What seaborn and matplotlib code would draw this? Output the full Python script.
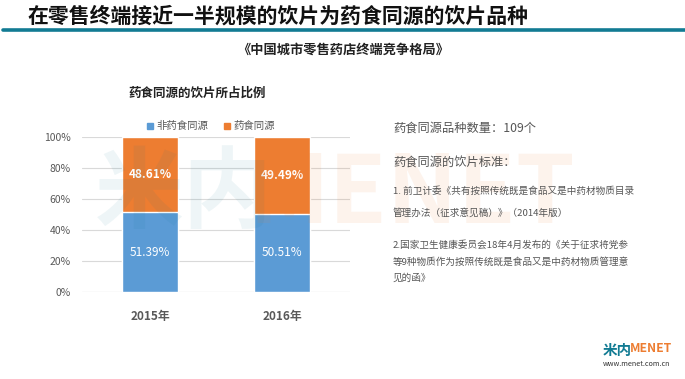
import pandas as pd
import matplotlib.pyplot as plt
import seaborn as sns
from matplotlib.lines import Line2D

years = ["2015年", "2016年"]
non_share = [51.39, 50.51]
share = [48.61, 49.49]
series_names = ["非药食同源", "药食同源"]
yticks = [0, 20, 40, 60, 80, 100]

df = pd.DataFrame({"year": years, "non": non_share, "yes": share})
df["total"] = df["non"] + df["yes"]

sns.set_theme(style="white")
plt.rcParams["font.family"] = ["Noto Sans CJK SC", "DejaVu Sans"]

W, H = 685, 379
fig = plt.figure(figsize=(W / 100, H / 100), dpi=100)
fig.patch.set_facecolor("white")


def px(x, y):
    return x / W, 1 - y / H


# header
fig.text(*px(28, 16), "在零售终端接近一半规模的饮片为药食同源的饮片品种",
         fontsize=15, fontweight="heavy", color="#111111", va="center", ha="left")
fig.add_artist(Line2D([3 / W, 1], [1 - 30 / H] * 2, color="#127b93", lw=2.6))
fig.text(*px(343, 50), "《中国城市零售药店终端竞争格局》", fontsize=9.5,
         fontweight="bold", color="#222222", va="center", ha="center")

# watermark (faint, behind everything)
fig.text(*px(95, 195), "米内", fontsize=64, fontweight="bold", color="#127b93",
         alpha=0.07, va="center", ha="left", zorder=0)
fig.text(*px(248, 195), "MENET", fontsize=68, fontweight="bold", color="#ed7d31",
         alpha=0.09, va="center", ha="left", zorder=0)

# chart
ax = fig.add_axes([82 / W, 1 - 292 / H, (350 - 82) / W, 155 / H])
ax.set_facecolor("none")
blue, orange = "#5b9bd5", "#ed7d31"
sns.barplot(data=df, x="year", y="total", color=orange, width=0.42,
            saturation=1, ax=ax, zorder=3)
sns.barplot(data=df, x="year", y="non", color=blue, width=0.42,
            saturation=1, ax=ax, zorder=3)
ax.set_xlim(-0.515, 1.515)
ax.set_ylim(0, 100)
ax.set_yticks(yticks)
ax.set_yticklabels([f"{t}%" for t in yticks], fontsize=7.5, color="#595959")
ax.yaxis.grid(True, color="#d9d9d9", lw=0.8, zorder=0)
ax.tick_params(axis="y", length=0, pad=8)
ax.tick_params(axis="x", length=0, pad=13)
ax.set_xticks(range(len(years)))
ax.set_xticklabels(years, fontsize=8.5, fontweight="bold", color="#595959")
ax.set_xlabel("")
ax.set_ylabel("")
for s in ax.spines.values():
    s.set_visible(False)
ax.axhline(0, color="#d9d9d9", lw=0.8, zorder=1)

for i in range(len(years)):
    ax.text(i, df["non"][i] / 2, f"{df['non'][i]:.2f}%", ha="center", va="center",
            color="white", fontsize=8.5, zorder=5)
    ax.text(i, df["non"][i] + df["yes"][i] / 2, f"{df['yes'][i]:.2f}%", ha="center",
            va="center", color="white", fontsize=8.5, fontweight="bold", zorder=5)

fig.text(*px(128, 93), "药食同源的饮片所占比例", fontsize=9, fontweight="bold",
         color="#222222", va="center", ha="left")
# legend
for (lx, name, c) in [(147, series_names[0], blue), (224, series_names[1], orange)]:
    fig.patches.append(plt.Rectangle(px(lx, 129), 6 / W, 6 / H, color=c,
                                     transform=fig.transFigure, figure=fig))
    fig.text(*px(lx + 9, 126), name, fontsize=7.5, color="#595959",
             va="center", ha="left")

# right-side notes
gray = "#555555"
fig.text(*px(393, 128), "药食同源品种数量：109个", fontsize=8.8, color=gray,
         va="center", ha="left")
fig.text(*px(393, 163), "药食同源的饮片标准：", fontsize=8.8, color=gray,
         va="center", ha="left")
notes = [
    (191, "1. 前卫计委《共有按照传统既是食品又是中药材物质目录"),
    (213, "管理办法（征求意见稿）》（2014年版）"),
    (245, "2.国家卫生健康委员会18年4月发布的《关于征求将党参"),
    (262, "等9种物质作为按照传统既是食品又是中药材物质管理意"),
    (278, "见的函》"),
]
for y, t in notes:
    fig.text(*px(393, y), t, fontsize=6.9, color=gray, va="center", ha="left")

# logo
fig.text(*px(603, 350), "米内", fontsize=10.5, fontweight="bold", color="#127b93",
         va="center", ha="left")
fig.text(*px(630, 349), "MENET", fontsize=8.8, fontweight="bold", color="#ed7d31",
         va="center", ha="left")
fig.text(*px(603, 364), "www.menet.com.cn", fontsize=5.2, color="#333333",
         va="center", ha="left")

fig.savefig("out.png", dpi=100, facecolor="white")
